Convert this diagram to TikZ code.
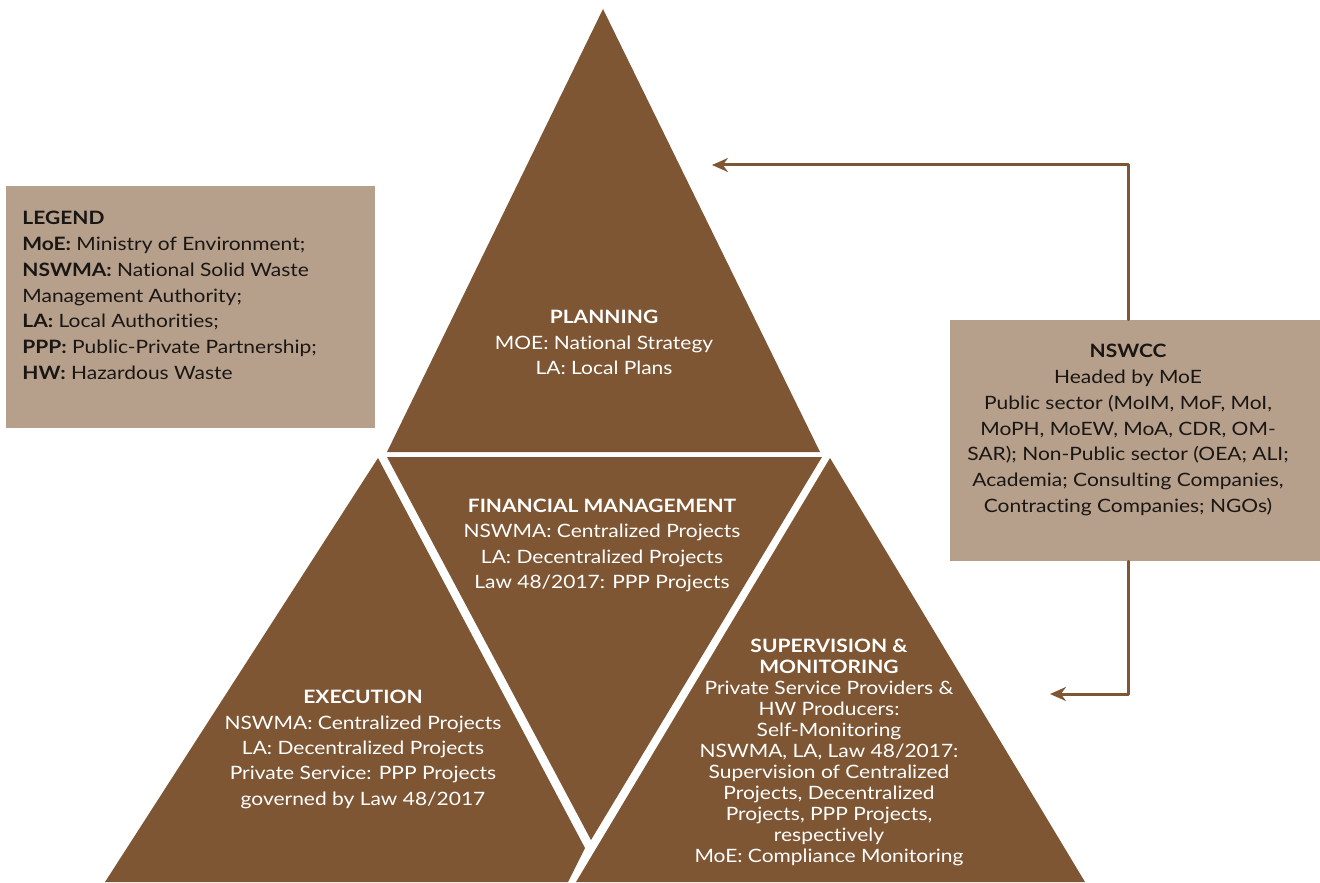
\documentclass[tikz,border=0pt]{standalone}
\usepackage{fontspec}
\setmainfont[FakeStretch=1.14,Ligatures=NoCommon]{Lato}
\usetikzlibrary{arrows.meta}

\begin{document}
\begin{tikzpicture}[x=0.5pt,y=-0.5pt,line join=round,line cap=round,
  tritext/.style={font=\fontsize{9.2}{12.7}\selectfont,text=white,align=center,inner sep=0pt},
  boxtext/.style={font=\fontsize{9.2}{12.9}\selectfont,text=boxink,inner sep=0pt},
  tanbox/.style={fill=boxtan,draw=none,inner sep=0pt},
  flow/.style={draw=pyrbrown,line width=1.5pt,-{Stealth[length=8pt,width=7pt]}}]

  \useasboundingbox (0,0) rectangle (1320,882);

  \definecolor{pyrbrown}{RGB}{126,86,51}
  \definecolor{boxtan}{RGB}{183,160,139}
  \definecolor{boxink}{RGB}{25,22,20}

  % ---- pyramid pieces ----
  \fill[pyrbrown] (603,9) -- (820,452) -- (387,452) -- cycle;
  \fill[pyrbrown] (387,457) -- (822,457) -- (591,840) -- cycle;
  \fill[pyrbrown] (378,458) -- (585,848) -- (568,882) -- (105,882) -- cycle;
  \fill[pyrbrown] (830,458) -- (1085,882) -- (576,882) -- cycle;

  % ---- pyramid texts ----
  \node[tritext] (planning) at (604,342.5)
    {\textbf{PLANNING}\\MOE: National Strategy\\LA: Local Plans};
  \node[tritext] (finance) at (602,545.5)
    {\textbf{FINANCIAL MANAGEMENT}\\NSWMA: Centralized Projects\\
     LA: Decentralized Projects\\Law 48/2017: PPP Projects};
  \node[tritext] (execution) at (363,749.5)
    {\textbf{EXECUTION}\\NSWMA: Centralized Projects\\LA: Decentralized Projects\\
     Private Service: PPP Projects\\governed by Law 48/2017};
  \node[tritext,font=\fontsize{9.2}{10.5}\selectfont] (supervision) at (829,752.5)
    {\textbf{SUPERVISION \&}\\\textbf{MONITORING}\\Private Service Providers \&\\
     HW Producers:\\Self-Monitoring\\NSWMA, LA, Law 48/2017:\\
     Supervision of Centralized\\Projects, Decentralized\\Projects, PPP Projects,\\
     respectively\\MoE: Compliance Monitoring};

  % ---- legend ----
  \node[tanbox,minimum width=184.5pt,minimum height=121pt] (legend) at (190.5,307) {};
  \node[boxtext,anchor=west,align=left] (legendtext) at (22,295.5)
    {\textbf{LEGEND}\\\textbf{MoE:} Ministry of Environment;\\
     \textbf{NSWMA:} National Solid Waste\\Management Authority;\\
     \textbf{LA:} Local Authorities;\\\textbf{PPP:} Public-Private Partnership;\\
     \textbf{HW:} Hazardous Waste};

  % ---- committee box ----
  \node[tanbox,minimum width=185pt,minimum height=120.5pt] (nswcc) at (1135,440.5) {};
  \node[boxtext,align=center] (nswcctext) at (1128,430)
    {\textbf{NSWCC}\\Headed by MoE\\Public sector (MoIM, MoF, MoI,\\
     MoPH, MoEW, MoA, CDR, OM-\\SAR); Non-Public sector (OEA; ALI;\\
     Academia; Consulting Companies,\\Contracting Companies; NGOs)};

  % ---- feedback arrows ----
  \coordinate (topturn) at (1128,165);
  \coordinate (plantip) at (712,165);
  \coordinate (lowturn) at (1128,694);
  \coordinate (supertip) at (1050,694);
  \draw[flow] (nswcc.north -| topturn) -- (topturn) -- (plantip);
  \draw[flow] (nswcc.south -| lowturn) -- (lowturn) -- (supertip);

\end{tikzpicture}
\end{document}
